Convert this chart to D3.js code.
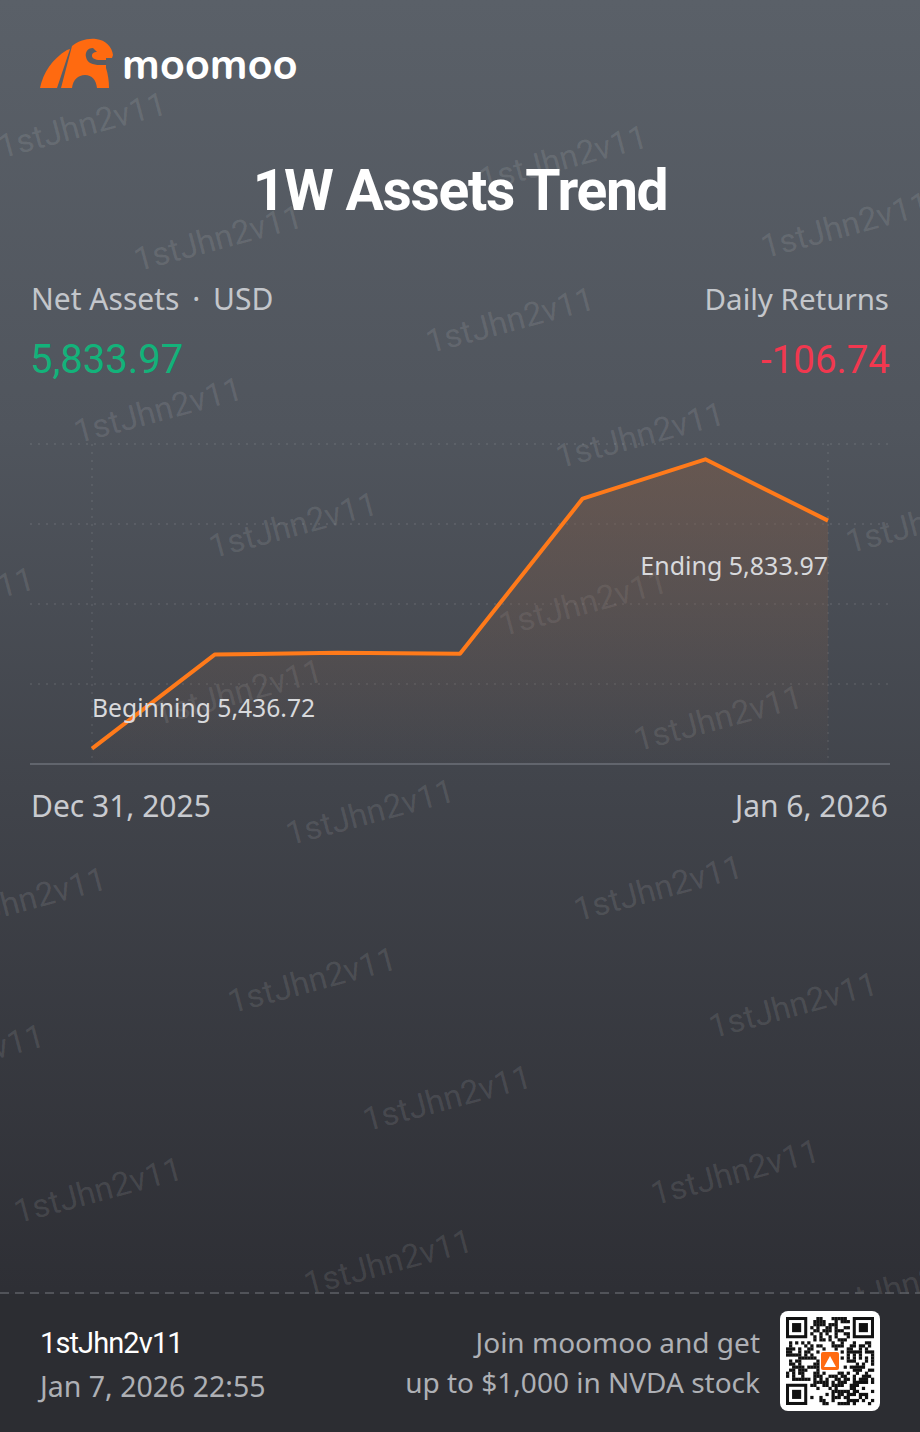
<!DOCTYPE html>
<html>
<head>
<meta charset="utf-8">
<script src="https://cdnjs.cloudflare.com/ajax/libs/d3/7.8.5/d3.min.js"></script>
<style>
  html, body { margin: 0; padding: 0; background: #2b2c31; }
  svg { display: block; }
</style>
</head>
<body>
<script>
// ---------- DATA ----------
const dates = ["Dec 31, 2025", "Jan 1, 2026", "Jan 2, 2026", "Jan 3, 2026", "Jan 4, 2026", "Jan 5, 2026", "Jan 6, 2026"];
const netAssets = [5436.72, 5600.6, 5603.9, 5602.1, 5872.3, 5940.71, 5833.97];
const xTickLabels = ["Dec 31, 2025", "Jan 6, 2026"];
const yGridCount = 5;
const netAssetsLabelParts = ["Net Assets", "·", "USD"];
const netAssetsValue = "5,833.97";
const dailyReturnsLabel = "Daily Returns";
const dailyReturnsValue = "-106.74";
const beginningLabel = "Beginning 5,436.72";
const endingLabel = "Ending 5,833.97";
const titleText = "1W Assets Trend";
const userName = "1stJhn2v11";
const stampText = "Jan 7, 2026 22:55";
const promoLines = ["Join moomoo and get", "up to $1,000 in NVDA stock"];
const watermarkText = "1stJhn2v11";
const watermarkCenters = [
  [82,125],[563,158],[218,238],[845,225],[510,320],[158,410],[640,435],[293,525],
  [930,520],[583,603],[-50,600],[238,692],[718,718],[370,812],[22,900],[658,888],
  [312,980],[793,1005],[-40,1057],[447,1098],[98,1190],[735,1172],[388,1262],[905,1285]
];

// ---------- SETUP ----------
const W = 920, H = 1432;
const FONT = "Roboto, 'Noto Sans', sans-serif";
const LFONT = "'Noto Sans', Roboto, sans-serif";
const svg = d3.select("body").append("svg").attr("width", W).attr("height", H);
const defs = svg.append("defs");

const bg = defs.append("linearGradient").attr("id", "bg").attr("x1", 0).attr("y1", 0).attr("x2", 0).attr("y2", 1);
bg.append("stop").attr("offset", 0).attr("stop-color", "#5a6068");
bg.append("stop").attr("offset", 0.3).attr("stop-color", "#50555d");
bg.append("stop").attr("offset", 0.55).attr("stop-color", "#41444b");
bg.append("stop").attr("offset", 0.9).attr("stop-color", "#2e2f35");
bg.append("stop").attr("offset", 1).attr("stop-color", "#2b2c31");
svg.append("rect").attr("width", W).attr("height", H).attr("fill", "url(#bg)");

// ---------- WATERMARKS ----------
svg.append("g").selectAll("text").data(watermarkCenters).join("text")
  .attr("transform", d => `translate(${d[0]},${d[1]}) rotate(-15)`)
  .attr("text-anchor", "middle").attr("dominant-baseline", "central")
  .attr("font-family", FONT).attr("font-size", 33)
  .attr("fill", "rgba(255,255,255,0.10)")
  .text(watermarkText);

// ---------- LOGO ----------
const logo = svg.append("g");
logo.append("path").attr("fill", "#ff6a10")
  .attr("d", "M40,88 C43,73 52,59 67,50 L70,49 L57,88 Z");
logo.append("path").attr("fill", "#ff6a10")
  .attr("d", "M61,88 L72,46 C78,41 87,38 96,39 C106,40 112,47 113,55 L112,58 L106,58 L106,68 C108,74 109,81 109,88 L97,88 C96,80 92,75 85,75 C78,75 73,80 72,88 Z");
logo.append("path").attr("fill", "#575c63")
  .attr("d", "M93,48 C87,48 85,53 86,57 C87,63 93,65 100,65 L106,65 L106,60 L100,60 C95,60 92,58 92,56 C92,53 94,52 97,52 Z");
logo.append("text").attr("x", 122).attr("y", 79)
  .attr("font-family", "'Nunito', 'Lato', 'Open Sans', sans-serif").attr("font-weight", 700)
  .attr("font-size", 43).attr("fill", "#ffffff").attr("letter-spacing", 0.2).text("moomoo");

// ---------- TITLE ----------
svg.append("text").attr("x", 460).attr("y", 210).attr("text-anchor", "middle")
  .attr("font-family", FONT).attr("font-weight", 700).attr("font-size", 57)
  .attr("letter-spacing", -1.3).attr("fill", "#ffffff").text(titleText);

// ---------- HEADER NUMBERS ----------
const nal = svg.append("text").attr("x", 31).attr("y", 310).attr("font-family", LFONT).attr("font-size", 30)
  .attr("fill", "#c3c6cb");
nal.append("tspan").text(netAssetsLabelParts[0] + " ");
nal.append("tspan").attr("dx", 5).text(netAssetsLabelParts[1] + " ");
nal.append("tspan").attr("dx", 5).text(netAssetsLabelParts[2]);
svg.append("text").attr("x", 30).attr("y", 373).attr("font-family", FONT).attr("font-size", 40)
  .attr("fill", "#13b27a").text(netAssetsValue);
svg.append("text").attr("x", 889).attr("y", 310).attr("text-anchor", "end").attr("font-family", LFONT).attr("font-size", 29.5)
  .attr("fill", "#c3c6cb").text(dailyReturnsLabel);
svg.append("text").attr("x", 890).attr("y", 373).attr("text-anchor", "end").attr("font-family", FONT).attr("font-size", 38.5)
  .attr("fill", "#f1384f").text(dailyReturnsValue);

// ---------- CHART ----------
const gridTop = 444, gridBottom = 764;
const x = d3.scalePoint().domain(dates).range([92, 828]);
const vMin = d3.min(netAssets), vMax = d3.max(netAssets);
const pad = (vMax - vMin) * 0.053;
const y = d3.scaleLinear().domain([vMin - pad, vMax + pad]).range([gridBottom, gridTop]);

const chart = svg.append("g");
const gridVals = d3.range(yGridCount).map(i => y.invert(gridTop + i * (gridBottom - gridTop) / (yGridCount - 1)));
chart.selectAll("line.h").data(gridVals.slice(0, yGridCount - 1)).join("line")
  .attr("x1", 30).attr("x2", 890).attr("y1", d => y(d)).attr("y2", d => y(d))
  .attr("stroke", "rgba(255,255,255,0.16)").attr("stroke-width", 1.2).attr("stroke-dasharray", "2,6");
chart.selectAll("line.v").data([dates[0], dates[dates.length - 1]]).join("line")
  .attr("x1", d => x(d)).attr("x2", d => x(d)).attr("y1", gridTop).attr("y2", gridBottom)
  .attr("stroke", "rgba(255,255,255,0.12)").attr("stroke-width", 1.2).attr("stroke-dasharray", "2,6");

const ag = defs.append("linearGradient").attr("id", "ag").attr("gradientUnits", "userSpaceOnUse")
  .attr("x1", 0).attr("y1", y(vMax)).attr("x2", 0).attr("y2", gridBottom);
ag.append("stop").attr("offset", 0).attr("stop-color", "#7a5a48").attr("stop-opacity", 0.55);
ag.append("stop").attr("offset", 1).attr("stop-color", "#7a5a48").attr("stop-opacity", 0.02);

const series = dates.map((d, i) => ({ d, v: netAssets[i] }));
chart.append("path").datum(series)
  .attr("d", d3.area().x(p => x(p.d)).y0(gridBottom).y1(p => y(p.v)))
  .attr("fill", "url(#ag)");
chart.append("path").datum(series)
  .attr("d", d3.line().x(p => x(p.d)).y(p => y(p.v)))
  .attr("fill", "none").attr("stroke", "#ff7a1a").attr("stroke-width", 4)
  .attr("stroke-linejoin", "round");

chart.append("line").attr("x1", 30).attr("x2", 890).attr("y1", gridBottom).attr("y2", gridBottom)
  .attr("stroke", "#6c7078").attr("stroke-width", 1.5);

chart.append("text").attr("x", x(dates[0])).attr("y", 717).attr("font-family", LFONT).attr("font-size", 24.7)
  .attr("fill", "#d8d9dc").text(beginningLabel);
chart.append("text").attr("x", x(dates[dates.length - 1])).attr("y", 575).attr("text-anchor", "end")
  .attr("font-family", LFONT).attr("font-size", 25).attr("fill", "#d8d9dc").text(endingLabel);

svg.append("text").attr("x", 31).attr("y", 817).attr("font-family", LFONT).attr("font-size", 30)
  .attr("fill", "#c9cbd0").text(xTickLabels[0]);
svg.append("text").attr("x", 888).attr("y", 817).attr("text-anchor", "end").attr("font-family", LFONT).attr("font-size", 30)
  .attr("fill", "#c9cbd0").text(xTickLabels[1]);

// ---------- FOOTER ----------
svg.append("rect").attr("x", 0).attr("y", 1294).attr("width", W).attr("height", H - 1294).attr("fill", "#2c2d32");
svg.append("line").attr("x1", 0).attr("x2", W).attr("y1", 1293).attr("y2", 1293)
  .attr("stroke", "#5d6066").attr("stroke-width", 1.5).attr("stroke-dasharray", "9,6");
svg.append("text").attr("x", 40).attr("y", 1353).attr("font-family", FONT).attr("font-size", 29)
  .attr("letter-spacing", -0.9).attr("fill", "#ffffff").text(userName);
svg.append("text").attr("x", 40).attr("y", 1397).attr("font-family", LFONT).attr("font-size", 28.5)
  .attr("fill", "#aeb0b5").text(stampText);
svg.append("g").selectAll("text").data(promoLines).join("text")
  .attr("x", 760).attr("y", (d, i) => 1353 + i * 40).attr("text-anchor", "end")
  .attr("font-family", LFONT).attr("font-size", 28).attr("fill", "#aeb0b5").text(d => d);

// QR code (decorative)
const qr = svg.append("g").attr("transform", "translate(780,1311)");
qr.append("rect").attr("width", 100).attr("height", 100).attr("rx", 8).attr("fill", "#ffffff");
const N = 29, cell = 88 / N, off = 6;
let seed = 7;
function nextBit() { seed = (seed * 1103515245 + 12345) & 0x7fffffff; return (seed >> 16) & 1; }
const isFinder = (r, c) => (r < 8 && c < 8) || (r < 8 && c >= N - 8) || (r >= N - 8 && c < 8);
for (let r = 0; r < N; r++) {
  for (let c = 0; c < N; c++) {
    if (isFinder(r, c)) continue;
    if (r >= 11 && r <= 17 && c >= 11 && c <= 17) continue;
    if (nextBit()) qr.append("rect").attr("x", off + c * cell).attr("y", off + r * cell)
      .attr("width", cell + 0.2).attr("height", cell + 0.2).attr("fill", "#111");
  }
}
[[0, 0], [0, N - 7], [N - 7, 0]].forEach(([r, c]) => {
  qr.append("rect").attr("x", off + c * cell).attr("y", off + r * cell).attr("width", 7 * cell).attr("height", 7 * cell).attr("fill", "#111");
  qr.append("rect").attr("x", off + (c + 1) * cell).attr("y", off + (r + 1) * cell).attr("width", 5 * cell).attr("height", 5 * cell).attr("fill", "#fff");
  qr.append("rect").attr("x", off + (c + 2) * cell).attr("y", off + (r + 2) * cell).attr("width", 3 * cell).attr("height", 3 * cell).attr("fill", "#111");
});
qr.append("rect").attr("x", 41).attr("y", 41).attr("width", 18).attr("height", 18).attr("rx", 2).attr("fill", "#ff6a10");
qr.append("path").attr("d", "M44,56 L50,45 L56,56 Z").attr("fill", "#fff");
</script>
</body>
</html>
